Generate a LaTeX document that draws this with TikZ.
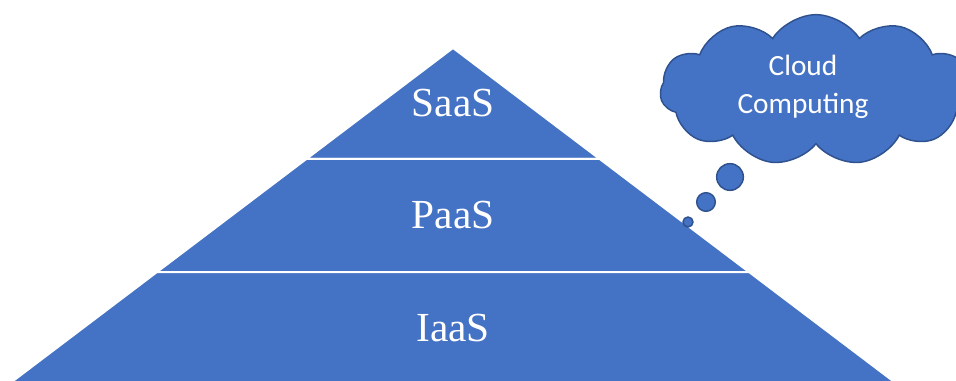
\documentclass[tikz,border=0pt]{standalone}
\usepackage{fontspec}
\setmainfont{Liberation Serif}
\newfontfamily\cloudfont{Carlito}
\usetikzlibrary{calc,shapes.symbols}

\definecolor{layerblue}{RGB}{68,114,196}
\definecolor{cloudline}{RGB}{47,82,143}

\tikzset{every picture/.style={line width=0.75pt}}
\tikzset{
  layer/.style={fill=layerblue, draw=white, line width=1.5pt, line join=miter},
  layertext/.style={text=white, inner sep=0.75pt, font=\fontsize{31}{36}\selectfont},
  thought/.style={fill=layerblue, draw=cloudline, line width=1.1pt},
  bubble/.style={thought, circle, inner sep=0pt},
}

\begin{document}
\begin{tikzpicture}[x=0.75pt,y=0.75pt,yscale=-1,xscale=1]
\useasboundingbox (0,0) rectangle (956,381);
\clip (0,0) rectangle (956,381);

% Pyramid corners
\coordinate (apex) at (453,48);
\coordinate (bl) at (13,381);
\coordinate (br) at (893,381);
% Layer borders
\coordinate (s1l) at ($(apex)!0.333!(bl)$);
\coordinate (s1r) at ($(apex)!0.333!(br)$);
\coordinate (s2l) at ($(apex)!0.673!(bl)$);
\coordinate (s2r) at ($(apex)!0.673!(br)$);
\coordinate (s3l) at ($(apex)!1.05!(bl)$);
\coordinate (s3r) at ($(apex)!1.05!(br)$);

%Shape: top layer
\draw [layer] (apex) -- (s1r) -- (s1l) -- cycle ;
%Shape: middle layer
\draw [layer] (s1l) -- (s1r) -- (s2r) -- (s2l) -- cycle ;
%Shape: bottom layer
\draw [layer] (s2l) -- (s2r) -- (s3r) -- (s3l) -- cycle ;

% Text Node
\node [layertext] (saas) at (453,103) {SaaS};
% Text Node
\node [layertext] (paas) at (453,215) {PaaS};
% Text Node
\node [layertext] (iaas) at (453,328) {IaaS};

%Shape: Cloud
\node [thought, cloud, cloud puffs=11, cloud puff arc=115, aspect=2,
       minimum width=234pt, minimum height=113pt, inner sep=0pt]
      (cloud) at (816,90) {};
% Text Node
\node [text=white, align=center, inner sep=0.75pt,
       font=\cloudfont\fontsize{22}{28}\selectfont]
      (cloudtext) at (803,87) {Cloud\\Computing};
%Shape: Circles
\node [bubble, minimum size=20pt] (bub1) at (730,177) {};
\node [bubble, minimum size=14pt] (bub2) at (706,202) {};
\node [bubble, minimum size=7.5pt] (bub3) at (688,222) {};

\end{tikzpicture}
\end{document}
